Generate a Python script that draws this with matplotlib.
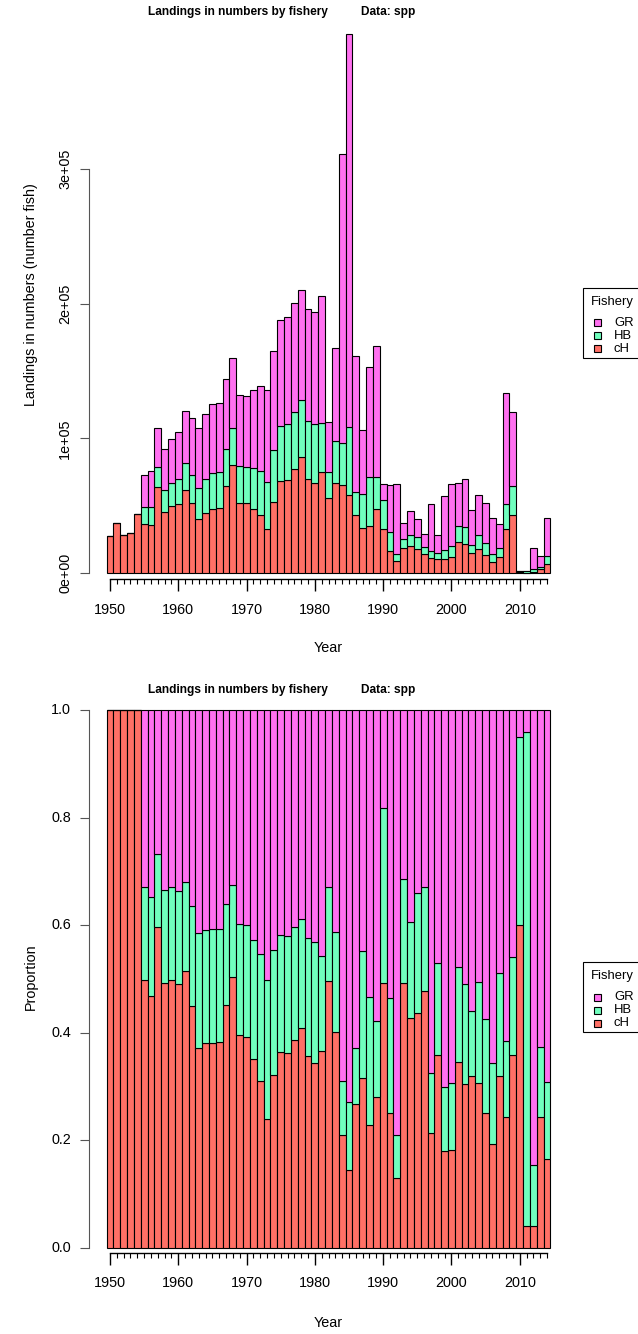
import matplotlib
matplotlib.use("Agg")
import matplotlib.pyplot as plt
from matplotlib.patches import Rectangle
from matplotlib.transforms import blended_transform_factory
import numpy as np

plt.rcParams['font.family'] = ['Liberation Sans', 'DejaVu Sans']

# ---------------- data (landings in thousands of fish) ----------------
years = list(range(1950, 2015))
cH = [27.3, 36.9, 28.5, 29.5, 43.8, 36.4, 35.4, 64.0, 45.5, 49.7,
      51.4, 62.0, 51.7, 40.1, 44.8, 47.7, 48.5, 64.9, 80.4, 52.2,
      51.7, 47.7, 43.3, 32.5, 52.8, 68.4, 68.9, 77.5, 86.1, 69.9,
      66.7, 75.3, 55.6, 67.2, 65.3, 58.1, 43.2, 33.5, 34.8, 47.5,
      32.7, 16.5, 8.6, 18.2, 19.8, 17.5, 13.8, 10.9, 10.1, 10.3,
      12.0, 23.1, 21.2, 15.0, 17.7, 13.0, 7.9, 11.6, 32.5, 42.8,
      1.08, 0.06, 0.78, 3.0, 6.8]
HB = [0, 0, 0, 0, 0, 12.6, 13.8, 14.5, 16.0, 17.2,
      18.2, 19.9, 21.4, 23.1, 24.8, 26.6, 26.5, 27.1, 27.1, 27.3,
      27.3, 30.0, 32.7, 35.2, 38.2, 40.8, 41.5, 42.1, 42.4, 43.0,
      43.7, 36.2, 19.7, 30.8, 31.4, 50.4, 16.7, 25.1, 36.5, 23.8,
      21.6, 14.0, 5.4, 7.2, 8.3, 8.9, 5.6, 5.7, 4.8, 6.8,
      8.3, 11.8, 13.0, 5.7, 10.8, 9.0, 6.1, 6.9, 18.9, 21.7,
      0.63, 1.38, 2.15, 1.6, 5.9]
GR = [0, 0, 0, 0, 0, 24.1, 26.3, 28.8, 30.8, 32.7,
      35.2, 38.4, 41.8, 44.8, 48.2, 50.9, 51.4, 51.7, 51.9, 52.4,
      52.6, 58.1, 63.2, 68.3, 73.5, 78.5, 79.7, 80.7, 81.8, 82.9,
      83.7, 94.2, 36.8, 69.1, 214.6, 291.6, 101.6, 47.5, 81.3, 97.5,
      12.1, 35.1, 52.4, 11.6, 18.3, 13.6, 9.5, 34.4, 13.2, 40.1,
      45.9, 32.0, 35.4, 26.3, 29.1, 29.7, 26.8, 17.7, 81.9, 54.8,
      0.09, 0.06, 15.97, 7.7, 28.4]
fisheries = ['GR', 'HB', 'cH']
fill = {'cH': '#FF7066', 'HB': '#70FFBE', 'GR': '#FF70F0'}
y_ticks_top = [0, 1e5, 2e5, 3e5]
y_labels_top = ['0e+00', '1e+05', '2e+05', '3e+05']
y_ticks_bot = [0.0, 0.2, 0.4, 0.6, 0.8, 1.0]
y_labels_bot = ['0.0', '0.2', '0.4', '0.6', '0.8', '1.0']
title_a = 'Landings in numbers by fishery'
title_b = 'Data: spp'

# ---------------- figure ----------------
W, H = 638, 1334
fig = plt.figure(figsize=(W / 100, H / 100), dpi=100)
FS = 10.4      # axis text
FS_T = 8.6     # title
FS_L = 9.4     # legend


def fx(px):
    return px / W


def fy(py):
    return 1 - py / H


def add_ax(left, right, top, bottom):
    return fig.add_axes([fx(left), fy(bottom), (right - left) / W, (bottom - top) / H])


yrs = np.array(years, dtype=float)
vals = {'cH': np.array(cH) * 1000, 'HB': np.array(HB) * 1000, 'GR': np.array(GR) * 1000}
tot = vals['cH'] + vals['HB'] + vals['GR']
props = {k: v / tot for k, v in vals.items()}

XL = (1946.93, 2017.07)


def panel(ax, data, ylim, yticks, ylabels, rot, ylab, xlab_y, tick_lab_y,
          title_y, ylab_x, ytl_x, ytl_ha):
    bottom = np.zeros(len(years))
    for k in ['cH', 'HB', 'GR']:
        ax.bar(yrs, data[k], width=1.0, bottom=bottom, color=fill[k],
               edgecolor='black', linewidth=0.8)
        bottom = bottom + data[k]
    ax.set_xlim(*XL)
    ax.set_ylim(*ylim)
    for s in ['top', 'right']:
        ax.spines[s].set_visible(False)
    ax.spines['left'].set_bounds(yticks[0], yticks[-1])
    ax.spines['left'].set_color('#555555')
    ax.spines['left'].set_linewidth(0.8)
    ax.spines['bottom'].set_bounds(1950, 2014)
    ax.spines['bottom'].set_linewidth(1.0)
    ax.set_yticks(yticks)
    ax.set_yticklabels([])
    ax.tick_params(axis='y', length=6.5, width=0.8, color='#555555', direction='out')
    ax.set_xticks(range(1950, 2011, 10))
    ax.set_xticks(years, minor=True)
    ax.set_xticklabels([])
    ax.tick_params(axis='x', which='major', length=8.6, width=1.0, direction='out')
    ax.tick_params(axis='x', which='minor', length=3.6, width=0.8, direction='out')
    tr_y = blended_transform_factory(fig.transFigure, ax.transData)
    for v, lab in zip(yticks, ylabels):
        ax.text(fx(ytl_x), v, lab, transform=tr_y, rotation=rot, ha=ytl_ha,
                va='center', fontsize=FS, clip_on=False)
    tr_x = blended_transform_factory(ax.transData, fig.transFigure)
    for yr in range(1950, 2011, 10):
        ax.text(yr, fy(tick_lab_y), str(yr), transform=tr_x, ha='center',
                va='center', fontsize=FS, clip_on=False)
    fig.text(fx(328.5), fy(xlab_y), 'Year', ha='center', va='center', fontsize=FS)
    pos = ax.get_position()
    fig.text(fx(ylab_x), (pos.y0 + pos.y1) / 2, ylab, rotation=90, ha='center',
             va='center', fontsize=FS)
    fig.text(fx(148), fy(title_y), title_a, ha='left', va='center',
             fontsize=FS_T, fontweight='bold')
    fig.text(fx(361), fy(title_y), title_b, ha='left', va='center',
             fontsize=FS_T, fontweight='bold')


def legend(top):
    left = 583
    box = Rectangle((fx(left), fy(top + 70)), fx(80), 70 / H, transform=fig.transFigure,
                    facecolor='white', edgecolor='black', linewidth=0.8)
    fig.add_artist(box)
    fig.text(fx(591), fy(top + 14), 'Fishery', ha='left', va='center', fontsize=FS_L)
    for i, k in enumerate(fisheries):
        yc = top + 35 + 13 * i
        sq = Rectangle((fx(594), fy(yc + 3.5)), fx(7), 7 / H, transform=fig.transFigure,
                       facecolor=fill[k], edgecolor='black', linewidth=0.8)
        fig.add_artist(sq)
        fig.text(fx(614), fy(yc), k, ha='left', va='center', fontsize=FS_L)


# top panel: 0 -> 573px, 134.67 px per 1e5, axes 10..579
ppu = 134.67 / 1e5
ax1 = add_ax(89, 568, 10, 579)
panel(ax1, vals, (-(579 - 573) / ppu, (573 - 10) / ppu), y_ticks_top, y_labels_top,
      90, 'Landings in numbers (number fish)', 648, 610, 12, 31, 65, 'center')
legend(288)

# bottom panel: 0 -> 1248px, 1 -> 710px, axes 700..1253
ppu2 = 538.0
ax2 = add_ax(89, 568, 700, 1253)
panel(ax2, props, (-(1253 - 1248) / ppu2, (1248 - 700) / ppu2), y_ticks_bot, y_labels_bot,
      0, 'Proportion', 1323, 1283, 690, 31, 71, 'right')
legend(962)

fig.savefig('out.png', dpi=100)
